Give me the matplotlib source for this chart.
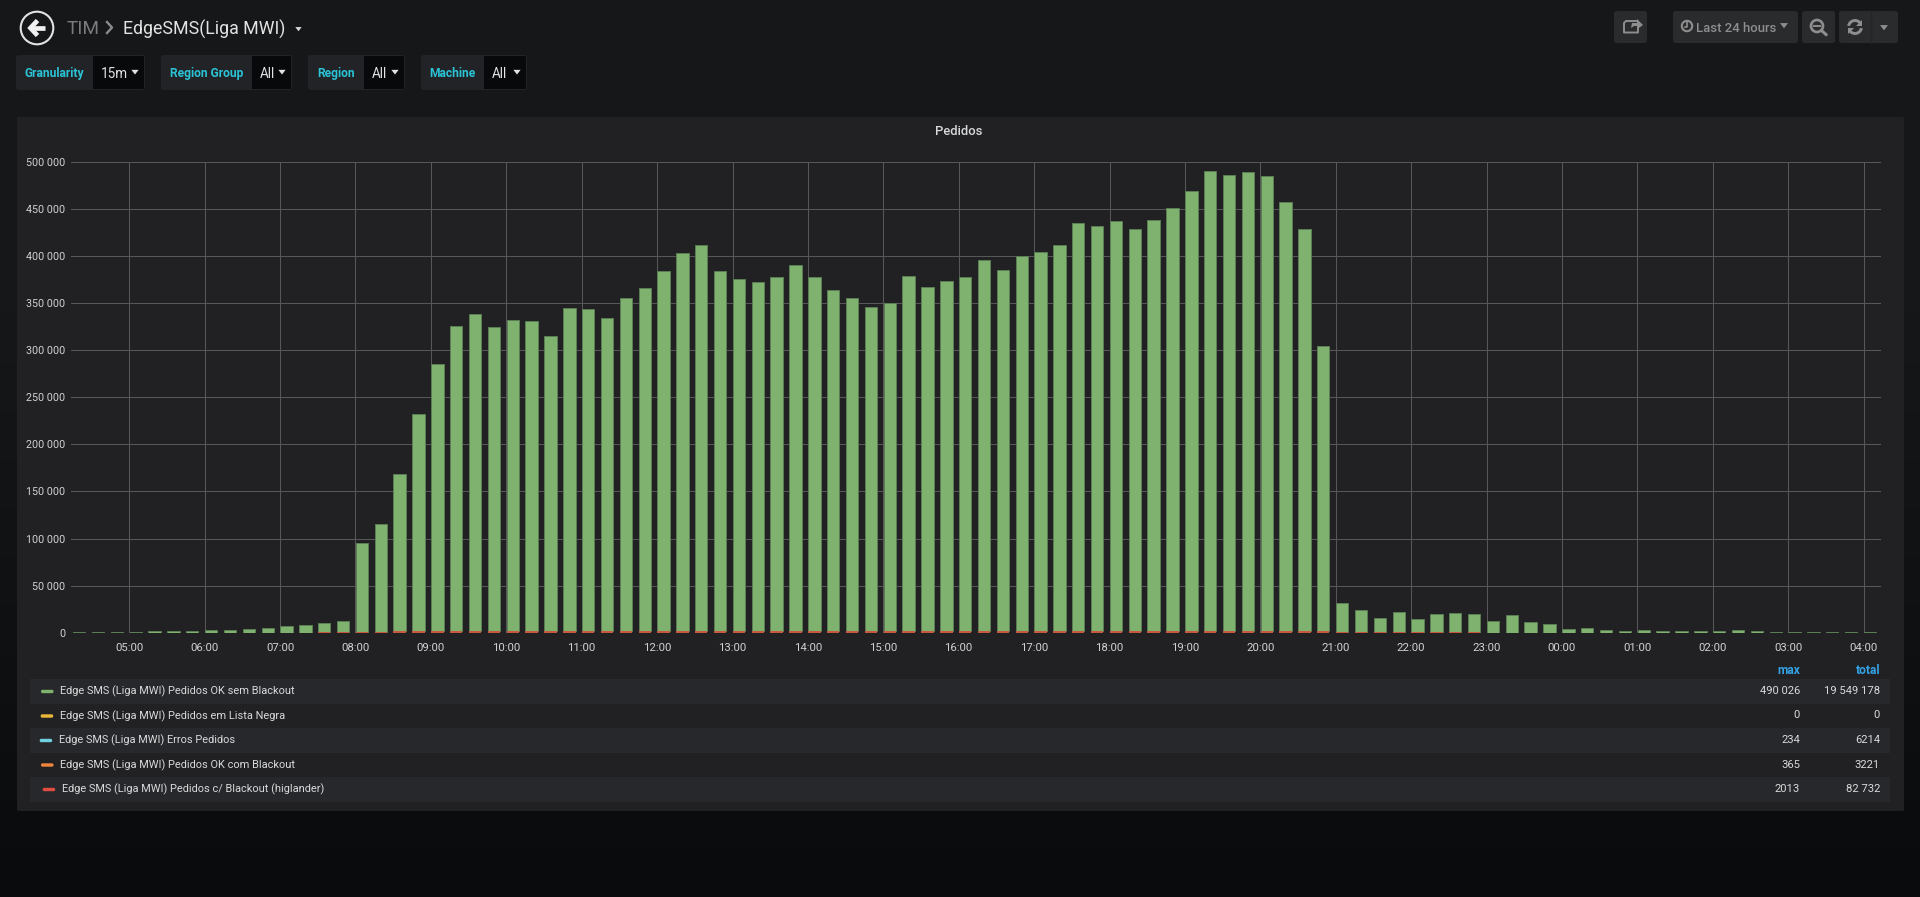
import numpy as np
import pandas as pd
import matplotlib
matplotlib.use("Agg")
import matplotlib.pyplot as plt
import matplotlib.dates as mdates
from matplotlib.patches import FancyBboxPatch, Circle, Rectangle, Polygon, Arc
from matplotlib.ticker import FuncFormatter, MultipleLocator

plt.rcParams['font.family'] = ['Roboto', 'DejaVu Sans']

times = pd.date_range('2019-01-01 04:15', periods=96, freq='15min')
stack_top_k = [
    0.5, 1.0, 0.8, 1.0, 1.5, 1.8, 2.0, 3.2, 3.5, 4.5, 5.0, 7.0, 8.0, 10.0, 13.0,
    95, 115, 168, 232, 285, 326, 338, 325, 332, 331,
    315, 345, 344, 334.5, 355, 366, 384, 403, 412, 384, 375, 372, 378, 390, 378,
    364, 355, 346, 350, 379, 367, 373, 378, 396, 385, 400, 404, 412, 435, 432,
    437, 428, 438.5, 450.5, 469, 490, 485.5, 489, 485, 457, 429, 304,
    31.5, 24, 16, 22, 15, 19.5, 21, 20, 13, 19, 11.7, 9.5, 4, 5.3, 3.5, 1.4, 3.2,
    2.1, 2.1, 2.1, 2.0, 2.5, 1.8, 1.0, 1.0, 1.0, 1.0, 0.8, 0.9,
]
blackout_k = [
    0, 0, 0, 0, 0, 0, 0, 0, 0, 0, 0, 0.2, 0.3, 0.4, 0.5,
    1.2, 1.3, 1.4, 1.6, 1.7, 1.8, 1.9, 1.8, 1.9, 1.8,
    1.7, 1.8, 1.8, 1.7, 1.8, 1.8, 1.9, 1.9, 2.0, 1.9, 1.8, 1.8, 1.8, 1.9, 1.8,
    1.7, 1.7, 1.7, 1.7, 1.8, 1.7, 1.7, 1.8, 1.8, 1.8, 1.8, 1.9, 1.9, 1.9, 1.9,
    1.9, 1.9, 1.9, 2.0, 2.0, 2.0, 2.0, 2.0, 2.0, 1.9, 1.9, 1.6,
    1.0, 0.8, 0.6, 0.6, 0.4, 0.5, 0.5, 0.4, 0.2, 0.2, 0.2, 0.1, 0, 0, 0, 0, 0,
    0, 0, 0, 0, 0, 0, 0, 0, 0, 0, 0, 0,
]
series_names = [
    'Edge SMS (Liga MWI) Pedidos OK sem Blackout',
    'Edge SMS (Liga MWI) Pedidos em Lista Negra',
    'Edge SMS (Liga MWI) Erros Pedidos',
    'Edge SMS (Liga MWI) Pedidos OK com Blackout',
    'Edge SMS (Liga MWI) Pedidos c/ Blackout (higlander)',
]
series_colors = ['#7eb26d', '#eab839', '#6ed0e0', '#ef843c', '#e24d42']
series_max = ['490 026', '0', '234', '365', '2013']
series_total = ['19 549 178', '0', '6214', '3221', '82 732']
dropdowns = [('Granularity', '15m'), ('Region Group', 'All'), ('Region', 'All'), ('Machine', 'All')]

W, H = 1920, 897
fig = plt.figure(figsize=(W / 100, H / 100), dpi=100)

bg = fig.add_axes([0, 0, 1, 1], zorder=0)
bg.set_xlim(0, W)
bg.set_ylim(H, 0)
bg.axis('off')

# page background
c_top = np.array([0x16, 0x17, 0x19]) / 255
c_bot = np.array([0x0a, 0x0b, 0x0d]) / 255
t = np.clip((np.linspace(0, 1, H) - 0.35) / 0.65, 0, 1)[:, None, None]
grad = c_top[None, None, :] * (1 - t) + c_bot[None, None, :] * t
bg.imshow(grad, extent=(0, W, H, 0), aspect='auto', zorder=0)
bg.set_xlim(0, W)
bg.set_ylim(H, 0)


def box(x0, y0, x1, y1, color, r=2.5, z=1, ec='none'):
    bg.add_patch(FancyBboxPatch((x0 + r, y0 + r), x1 - x0 - 2 * r, y1 - y0 - 2 * r,
                                boxstyle=f'round,pad={r},rounding_size={r}',
                                fc=color, ec=ec, lw=0.8, zorder=z))


def label(x, y, s, color='#d8d9da', px=12, ha='left', weight='normal', z=5):
    bg.text(x, y, s, color=color, fontsize=px * 0.72, ha=ha, va='center_baseline',
            fontweight=weight, zorder=z)


def caret(x, y, w, color):
    bg.add_patch(Polygon([(x - w, y - w * 0.6), (x + w, y - w * 0.6), (x, y + w * 0.7)],
                         fc=color, ec='none', zorder=5))


# header
bg.add_patch(Circle((37, 28), 16.3, fc='none', ec='#e3e3e3', lw=1.5, zorder=5))
bg.plot([44.5, 31.5], [28, 28], color='#f0f0f0', lw=3.4, solid_capstyle='butt', zorder=5)
bg.plot([37.5, 30.5, 37.5], [20.5, 28, 35.5], color='#f0f0f0', lw=3.4,
        solid_joinstyle='miter', solid_capstyle='butt', zorder=5)
label(67, 27, 'TIM', '#7b7b7b', 19)
bg.plot([107, 112, 107], [22, 27.5, 33], color='#8a8a8a', lw=1.7, zorder=5)
label(123, 27, 'EdgeSMS(Liga MWI)', '#e3e3e3', 17.8)
caret(298.5, 29, 3.2, '#d8d9da')

# template variable dropdowns
drop_x = [(16, 93, 145), (161, 252, 292), (308, 364, 405), (421, 484, 527)]
for (name, val), (x0, x1, x2) in zip(dropdowns, drop_x):
    box(x0, 55, x2, 90, '#212327', z=1)
    bg.add_patch(Rectangle((x1, 56), x2 - x1 - 1, 33, fc='#08090b', ec='none', zorder=2))
    label((x0 + x1) / 2, 72, name, '#2bc3d6', 12, ha='center', weight='bold')
    label(x1 + 8, 73, val, '#e3e3e3', 13.5)
    caret(x2 - 10, 72, 3.6, '#e3e3e3')

# top-right toolbar
BTN = '#2a2b2d'
ICON = '#8e8e8e'
box(1614, 11, 1647, 43, BTN)
box(1673, 11, 1798, 43, BTN)
box(1802, 11, 1835, 43, BTN)
box(1839, 11, 1898, 43, BTN)
bg.plot([1871, 1871], [11, 43], color='#232426', lw=1, zorder=3)
# share
bg.plot([1636, 1626, 1624, 1624, 1638, 1638], [21, 21, 23, 32.5, 32.5, 28],
        color=ICON, lw=1.4, zorder=5)
bg.add_patch(Polygon([(1631, 28), (1632, 23), (1637, 23), (1637, 19), (1643, 25),
                      (1637, 29.5), (1637, 26), (1634, 26)], fc=ICON, ec='none', zorder=5))
# clock and range text
bg.add_patch(Circle((1687, 26), 5.2, fc='none', ec=ICON, lw=1.5, zorder=5))
bg.plot([1687, 1687, 1684.5], [22.5, 26.8, 26.8], color=ICON, lw=1.2, zorder=5)
label(1696, 26.5, 'Last 24 hours', ICON, 13.1, weight='medium')
caret(1784, 25.5, 4, ICON)
# zoom out
bg.add_patch(Circle((1817, 26), 6, fc='none', ec=ICON, lw=1.9, zorder=5))
bg.plot([1814, 1820], [26, 26], color=ICON, lw=1.4, zorder=5)
bg.plot([1821.5, 1826], [30.5, 34.5], color=ICON, lw=2.2, zorder=5)
# refresh
bg.add_patch(Arc((1855, 27), 13, 13, theta1=190, theta2=330, ec=ICON, lw=2.1, zorder=5))
bg.add_patch(Arc((1855, 27), 13, 13, theta1=10, theta2=150, ec=ICON, lw=2.1, zorder=5))
bg.add_patch(Polygon([(1862, 20), (1862, 26), (1856, 26)], fc=ICON, ec='none', zorder=5))
bg.add_patch(Polygon([(1848, 34), (1848, 28), (1854, 28)], fc=ICON, ec='none', zorder=5))
caret(1884, 27.5, 4, ICON)

# panel
box(17, 117, 1904, 811, '#212124', r=1.5, z=1)
label(959, 130, 'Pedidos', '#d8d9da', 13, ha='center', weight='medium')

# legend table
row_y = [691.5, 716, 740.5, 765, 789.5]
row_dx = [0, -0.3, -1.3, 0, 1.7]
label(1800, 669, 'max', '#33a2e5', 12, ha='right', weight='bold')
label(1880, 669, 'total', '#33a2e5', 12, ha='right', weight='bold')
for i, (name, col, mx, tot) in enumerate(zip(series_names, series_colors, series_max, series_total)):
    y = row_y[i]
    if i % 2 == 0:
        bg.add_patch(Rectangle((30, y - 12.3), 1860, 24.6, fc='#27282b', ec='none', zorder=2))
    bg.add_patch(FancyBboxPatch((42.5 + row_dx[i], y - 0.2), 9.5, 0.4,
                                boxstyle='round,pad=1.5,rounding_size=1.5',
                                fc=col, ec='none', zorder=4))
    label(60 + row_dx[i], y - 1.5, name, '#d8d9da', 11.05)
    label(1800, y - 1.5, mx, '#d8d9da', 11.3, ha='right')
    label(1880, y - 1.5, tot, '#d8d9da', 11.3, ha='right')

# chart
PX_L, PX_R, PX_T, PX_B = 71, 1880.5, 161.6, 632.8
ax = fig.add_axes([PX_L / W, 1 - PX_B / H, (PX_R - PX_L) / W, (PX_B - PX_T) / H], zorder=2)
ax.patch.set_alpha(0)
for s in ax.spines.values():
    s.set_visible(False)

PX_PER_HOUR = 75.4
t05 = mdates.date2num(pd.Timestamp('2019-01-01 05:00'))
x_l = t05 - (129.3 - PX_L) / PX_PER_HOUR / 24
x_r = t05 + (PX_R - 129.3) / PX_PER_HOUR / 24
bar_w = 12.4 / PX_PER_HOUR / 24

x = mdates.date2num(times)
red = np.array(blackout_k) * 1000
green = np.array(stack_top_k) * 1000 - red
ax.bar(x + 0.25 / PX_PER_HOUR / 24, green, width=bar_w, bottom=red, align='edge', color='#7fb26e',
       edgecolor='#5b7d54', linewidth=0.72, zorder=3)
ax.bar(x + 0.25 / PX_PER_HOUR / 24, red, width=bar_w, align='edge', color='#c8583f',
       edgecolor='none', zorder=4)

ax.set_xlim(x_l, x_r)
ax.set_ylim(0, 500000)
ax.yaxis.set_major_locator(MultipleLocator(50000))
ax.yaxis.set_major_formatter(FuncFormatter(lambda v, _: f'{int(v):,}'.replace(',', ' ')))
ax.xaxis.set_major_locator(mdates.HourLocator())
ax.xaxis.set_major_formatter(mdates.DateFormatter('%H:%M'))
ax.grid(True, color='#58585b', lw=0.72, zorder=1)
ax.set_axisbelow(True)
ax.tick_params(axis='both', length=0, colors='#d0d1d2')
ax.tick_params(axis='y', pad=4, labelsize=10.8 * 0.72)
ax.tick_params(axis='x', pad=7, labelsize=11.4 * 0.72)

fig.savefig('out.png', dpi=100, facecolor=fig.get_facecolor())
